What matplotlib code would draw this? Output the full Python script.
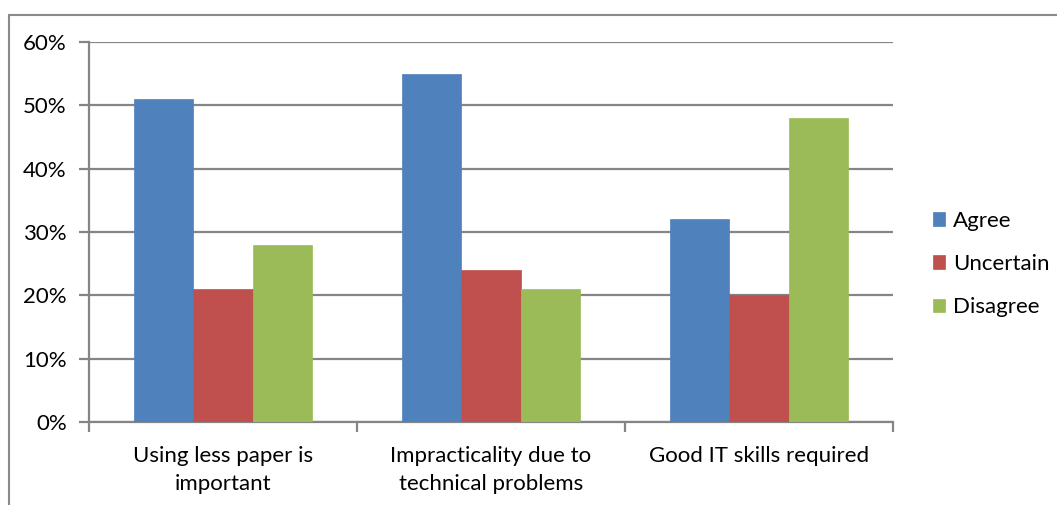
import matplotlib
matplotlib.use("Agg")
import matplotlib.pyplot as plt
import numpy as np
from matplotlib.patches import Rectangle
from matplotlib.ticker import FuncFormatter, FixedLocator

categories = ["Using less paper is\nimportant", "Impracticality due to\ntechnical problems", "Good IT skills required"]
series_names = ["Agree", "Uncertain", "Disagree"]
agree = [51, 55, 32]
uncertain = [21, 24, 20]
disagree = [28, 21, 48]
yticks = [0, 10, 20, 30, 40, 50, 60]

colors = ["#4F81BD", "#C0504D", "#9BBB59"]
plt.rcParams['font.family'] = ['Lato', 'DejaVu Sans']
fs = 16

fig = plt.figure(figsize=(10.57, 5.05), dpi=100)
ax = fig.add_axes([89/1057, 1-422/505, (893-89)/1057, (422-42)/505])

x = np.arange(len(categories))
w = 1/4.5
for i, (vals, name) in enumerate(zip([agree, uncertain, disagree], series_names)):
    ax.bar(x + (i-1)*w, vals, width=w, color=colors[i], label=name, zorder=3,
           edgecolor=colors[i], linewidth=0.5)

ax.set_xlim(-0.5, len(categories)-0.5)
ax.set_ylim(0, 60)
ax.set_yticks(yticks)
ax.yaxis.set_major_formatter(FuncFormatter(lambda v, p: f"{int(v)}%"))
ax.grid(axis='y', color='#858585', linewidth=1.6, zorder=0)
ax.set_xticks(x)
ax.set_xticklabels(categories, fontsize=fs, linespacing=1.55)
ax.tick_params(axis='x', length=0, pad=17)
ax.xaxis.set_minor_locator(FixedLocator([-0.5, 0.5, 1.5, 2.5]))
ax.tick_params(axis='x', which='minor', length=7, width=1.6, color='#858585', direction='out')
ax.tick_params(axis='y', length=7, width=1.6, color='#858585', labelsize=fs, pad=9)
for s in ['top', 'right']:
    ax.spines[s].set_visible(False)
for s in ['left', 'bottom']:
    ax.spines[s].set_color('#858585')
    ax.spines[s].set_linewidth(1.6)

ax.legend(loc='center left', bbox_to_anchor=(922/1057, 1-264/505), bbox_transform=fig.transFigure,
          frameon=False, fontsize=fs, handlelength=0.55, handleheight=0.55, handletextpad=0.36,
          labelspacing=1.05, borderpad=0)

fig.patches.append(Rectangle((9/1057, -0.05), 1.2, 1-15/505+0.05, transform=fig.transFigure,
                             fill=False, edgecolor='#8a8a8a', linewidth=1.5))

fig.savefig("out.png", dpi=100)
